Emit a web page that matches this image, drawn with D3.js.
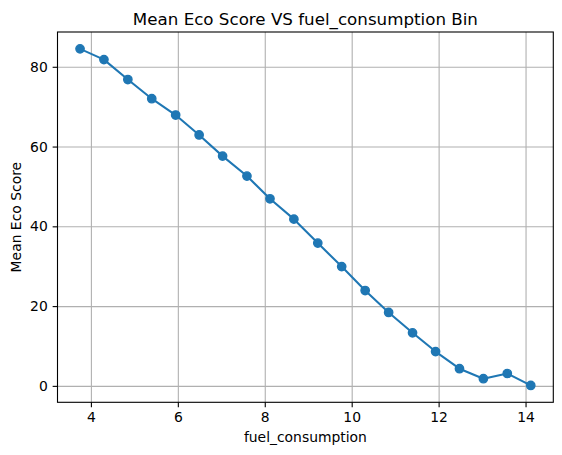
<!DOCTYPE html>
<html>
<head>
<meta charset="utf-8">
<script src="https://cdn.jsdelivr.net/npm/d3@7"></script>
<style>
  html, body { margin: 0; padding: 0; background: #fff; }
  svg { display: block; font-family: "DejaVu Sans", sans-serif; }
</style>
</head>
<body>
<div id="chart"></div>
<script>
// bin centres (fuel_consumption) and mean eco score per bin
const fuelBins = [3.75, 4.30, 4.85, 5.40, 5.95, 6.49, 7.03, 7.59, 8.12, 8.67,
                  9.22, 9.77, 10.31, 10.85, 11.40, 11.93, 12.48, 13.03, 13.58, 14.12];
const meanEco = [84.5, 81.8, 76.8, 72.0, 67.9, 62.9, 57.6, 52.6, 46.9, 41.8,
                 35.8, 29.9, 23.9, 18.4, 13.3, 8.6, 4.3, 1.8, 3.1, 0.1];
const xTicks = [4, 6, 8, 10, 12, 14];
const yTicks = [0, 20, 40, 60, 80];

const titleText = 'Mean Eco Score VS fuel_consumption Bin';
const xLabel = 'fuel_consumption';
const yLabel = 'Mean Eco Score';

const width = 562, height = 455;
const margin = { top: 32, right: 8.7, bottom: 52.7, left: 57.5 };
const innerW = width - margin.left - margin.right;
const innerH = height - margin.top - margin.bottom;
const blue = '#1f77b4';

const svg = d3.select('#chart')
  .append('svg')
  .attr('width', width)
  .attr('height', height);

// matplotlib style 5% padding
const pad = (ext) => {
  const d = (ext[1] - ext[0]) * 0.05;
  return [ext[0] - d, ext[1] + d];
};

const x = d3.scaleLinear()
  .domain(pad(d3.extent(fuelBins)))
  .range([0, innerW]);
const y = d3.scaleLinear()
  .domain(pad(d3.extent(meanEco)))
  .range([innerH, 0]);

const g = svg.append('g')
  .attr('transform', `translate(${margin.left},${margin.top})`);

// grid
g.append('g')
  .attr('transform', `translate(0,${innerH})`)
  .call(d3.axisBottom(x).tickValues(xTicks).tickSize(-innerH).tickFormat(''))
  .call(s => s.select('.domain').remove())
  .selectAll('line').attr('stroke', '#b0b0b0').attr('stroke-width', 1.1);
g.append('g')
  .call(d3.axisLeft(y).tickValues(yTicks).tickSize(-innerW).tickFormat(''))
  .call(s => s.select('.domain').remove())
  .selectAll('line').attr('stroke', '#b0b0b0').attr('stroke-width', 1.1);

// line + markers
const line = d3.line()
  .x((d, i) => x(fuelBins[i]))
  .y(d => y(d));

g.append('path')
  .datum(meanEco)
  .attr('fill', 'none')
  .attr('stroke', blue)
  .attr('stroke-width', 2.08)
  .attr('stroke-linejoin', 'round')
  .attr('stroke-linecap', 'square')
  .attr('d', line);

g.selectAll('circle')
  .data(meanEco)
  .enter()
  .append('circle')
  .attr('cx', (d, i) => x(fuelBins[i]))
  .attr('cy', d => y(d))
  .attr('r', 4.17)
  .attr('fill', blue)
  .attr('stroke', blue)
  .attr('stroke-width', 1.39);

// axes
const xAxis = g.append('g')
  .attr('transform', `translate(0,${innerH})`)
  .call(d3.axisBottom(x).tickValues(xTicks).tickSize(4.86).tickPadding(4.86).tickFormat(d3.format('d')));
const yAxis = g.append('g')
  .call(d3.axisLeft(y).tickValues(yTicks).tickSize(4.86).tickPadding(4.86).tickFormat(d3.format('d')));

[xAxis, yAxis].forEach(a => {
  a.select('.domain').remove();
  a.selectAll('line').attr('stroke', '#000').attr('stroke-width', 1.1);
  a.selectAll('text')
    .attr('fill', '#000')
    .style('font-family', '"DejaVu Sans", sans-serif')
    .style('font-size', '13.9px');
});

// frame
g.append('rect')
  .attr('width', innerW)
  .attr('height', innerH)
  .attr('fill', 'none')
  .attr('stroke', '#000')
  .attr('stroke-width', 1.1);

// texts
svg.append('text')
  .attr('x', margin.left + innerW / 2)
  .attr('y', 24.5)
  .attr('text-anchor', 'middle')
  .style('font-size', '16.7px')
  .text(titleText);

svg.append('text')
  .attr('x', margin.left + innerW / 2)
  .attr('y', 442)
  .attr('text-anchor', 'middle')
  .style('font-size', '13.9px')
  .text(xLabel);

svg.append('text')
  .attr('transform', `translate(21,${margin.top + innerH / 2}) rotate(-90)`)
  .attr('text-anchor', 'middle')
  .style('font-size', '13.9px')
  .text(yLabel);
</script>
</body>
</html>
